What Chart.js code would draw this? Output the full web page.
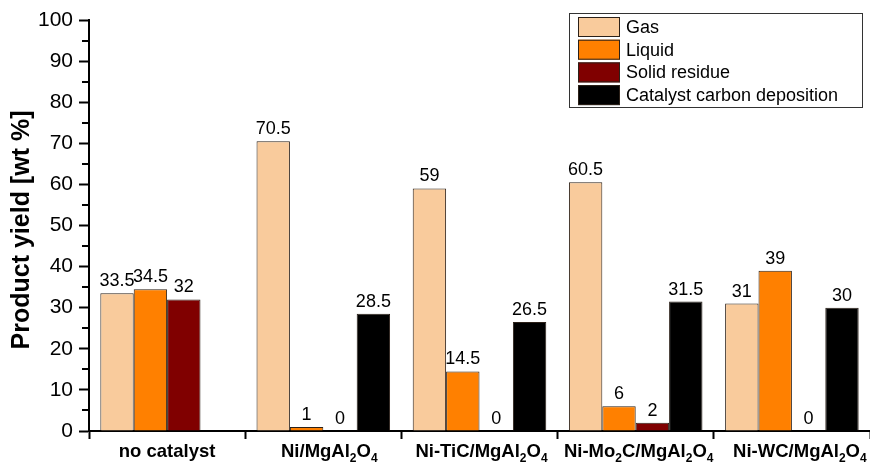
<!DOCTYPE html>
<html>
<head>
<meta charset="utf-8">
<script src="https://cdn.jsdelivr.net/npm/chart.js@4/dist/chart.umd.min.js"></script>
<style>
  html, body { margin: 0; padding: 0; background: #fff; }
  #wrap { width: 870px; height: 463px; }
</style>
</head>
<body>
<div id="wrap"><canvas id="yieldChart" width="870" height="463"></canvas></div>
<script>
// category labels, split in [text, isSubscript] pieces
const categories = ['no catalyst', 'Ni/MgAl2O4', 'Ni-TiC/MgAl2O4', 'Ni-Mo2C/MgAl2O4', 'Ni-WC/MgAl2O4'];
const categoryParts = [
  [['no catalyst', 0]],
  [['Ni/MgAl', 0], ['2', 1], ['O', 0], ['4', 1]],
  [['Ni-TiC/MgAl', 0], ['2', 1], ['O', 0], ['4', 1]],
  [['Ni-Mo', 0], ['2', 1], ['C/MgAl', 0], ['2', 1], ['O', 0], ['4', 1]],
  [['Ni-WC/MgAl', 0], ['2', 1], ['O', 0], ['4', 1]]
];

const gasValues = [33.5, 70.5, 59, 60.5, 31];
const liquidValues = [34.5, 1, 14.5, 6, 39];
const solidValues = [32, 0, 0, 2, 0];
const carbonValues = [null, 28.5, 26.5, 31.5, 30];

const yTicks = [0, 10, 20, 30, 40, 50, 60, 70, 80, 90, 100];
const yMinorTicks = [5, 15, 25, 35, 45, 55, 65, 75, 85, 95];

const FONT = 'Arial, "Liberation Sans", sans-serif';
// the original labels sit a little off the group centres
const labelShift = [0, 6, 2, 3, 8];

function makeSet(label, data, color) {
  return {
    label,
    data,
    backgroundColor: color,
    borderColor: '#2b2018',
    borderWidth: (ctx) => (ctx.raw === 0 ? 0 : 1),
    borderSkipped: 'bottom',
    categoryPercentage: 0.855,
    barPercentage: 1.0
  };
}

// value labels, custom legend, subscripted x labels, y title, minor ticks
const decorPlugin = {
  id: 'decor',
  afterDatasetsDraw(chart) {
    const ctx = chart.ctx;
    ctx.save();
    ctx.fillStyle = '#000';
    ctx.font = '18px ' + FONT;
    ctx.textAlign = 'center';
    ctx.textBaseline = 'bottom';
    chart.data.datasets.forEach((ds, di) => {
      const meta = chart.getDatasetMeta(di);
      meta.data.forEach((bar, i) => {
        const v = ds.data[i];
        if (v === null || v === undefined) return;
        ctx.fillText(String(v), bar.x, bar.y - 3);
      });
    });
    ctx.restore();
  },
  afterDraw(chart) {
    const ctx = chart.ctx;
    const area = chart.chartArea;
    const x = chart.scales.x;
    const y = chart.scales.y;
    ctx.save();

    // minor ticks on y axis
    ctx.strokeStyle = '#000';
    ctx.lineWidth = 2;
    yMinorTicks.forEach(t => {
      const py = Math.round(y.getPixelForValue(t));
      ctx.beginPath();
      ctx.moveTo(area.left - 7, py);
      ctx.lineTo(area.left, py);
      ctx.stroke();
    });

    // x category labels with subscripts
    ctx.fillStyle = '#000';
    ctx.textBaseline = 'alphabetic';
    const mainFont = 'bold 18.5px ' + FONT;
    const subFont = 'bold 12px ' + FONT;
    categoryParts.forEach((parts, i) => {
      const cx = x.getPixelForValue(i) + labelShift[i];
      let total = 0;
      parts.forEach(([txt, sub]) => {
        ctx.font = sub ? subFont : mainFont;
        total += ctx.measureText(txt).width;
      });
      let px = cx - total / 2;
      const base = 457;
      parts.forEach(([txt, sub]) => {
        ctx.font = sub ? subFont : mainFont;
        ctx.textAlign = 'left';
        ctx.fillText(txt, px, sub ? base + 5 : base);
        px += ctx.measureText(txt).width;
      });
    });

    // y axis title
    ctx.save();
    ctx.translate(29, 230);
    ctx.rotate(-Math.PI / 2);
    ctx.font = 'bold 25px ' + FONT;
    ctx.textAlign = 'center';
    ctx.textBaseline = 'alphabetic';
    ctx.fillText('Product yield [wt %]', 0, 0);
    ctx.restore();

    // legend box
    const lx = 569, ly = 13, lw = 293, lh = 94;
    ctx.fillStyle = '#fff';
    ctx.fillRect(lx, ly, lw, lh);
    ctx.strokeStyle = '#333';
    ctx.lineWidth = 1;
    ctx.strokeRect(lx + 0.5, ly + 0.5, lw, lh);
    ctx.font = '18px ' + FONT;
    ctx.textAlign = 'left';
    ctx.textBaseline = 'middle';
    chart.data.datasets.forEach((ds, i) => {
      const cy = 27 + i * 22.7;
      ctx.fillStyle = ds.backgroundColor;
      ctx.fillRect(578, cy - 10, 42, 20);
      ctx.strokeStyle = '#2b2018';
      ctx.strokeRect(578.5, cy - 9.5, 41, 19);
      ctx.fillStyle = '#000';
      ctx.fillText(ds.label, 626, cy + 1);
    });

    ctx.restore();
  }
};

new Chart(document.getElementById('yieldChart'), {
  type: 'bar',
  data: {
    labels: categories,
    datasets: [
      makeSet('Gas', gasValues, '#F9CB9C'),
      makeSet('Liquid', liquidValues, '#FF8000'),
      makeSet('Solid residue', solidValues, '#800000'),
      makeSet('Catalyst carbon deposition', carbonValues, '#000000')
    ]
  },
  options: {
    responsive: false,
    animation: false,
    layout: { padding: { top: 20, right: -2, left: 0, bottom: 0 } },
    plugins: {
      legend: { display: false },
      tooltip: { enabled: false }
    },
    scales: {
      x: {
        grid: {
          offset: true,
          drawOnChartArea: false,
          tickLength: 8,
          tickWidth: 2,
          tickColor: '#000'
        },
        border: { color: '#000', width: 2 },
        ticks: { display: false },
        afterFit: (s) => { s.height = 32; }
      },
      y: {
        min: 0,
        max: 100,
        afterBuildTicks: (s) => { s.ticks = yTicks.map(v => ({ value: v })); },
        ticks: {
          color: '#000',
          padding: 6,
          font: { family: FONT, size: 21 }
        },
        grid: {
          drawOnChartArea: false,
          tickLength: 10,
          tickWidth: 2,
          tickColor: '#000'
        },
        border: { color: '#000', width: 2 },
        afterFit: (s) => { s.width = 89; }
      }
    }
  },
  plugins: [decorPlugin]
});
</script>
</body>
</html>
